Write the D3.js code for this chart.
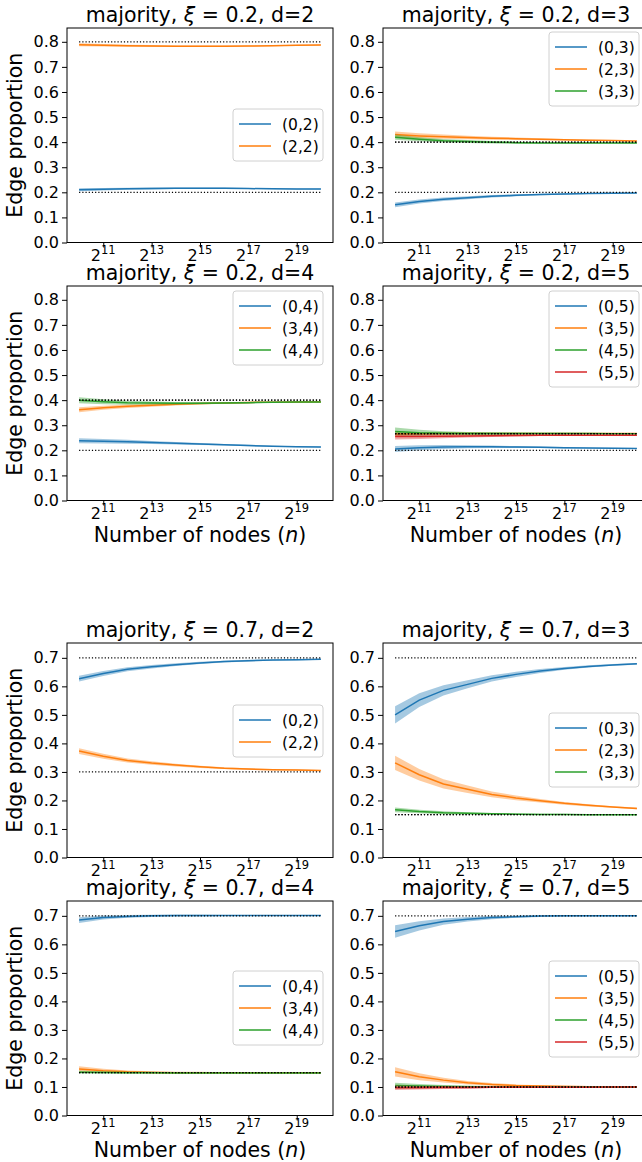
<!DOCTYPE html>
<html>
<head>
<meta charset="utf-8">
<script src="https://cdn.jsdelivr.net/npm/d3@7"></script>
<style>
  body { margin: 0; background: #fff; }
  svg { display: block; font-family: "DejaVu Sans", sans-serif; }
</style>
</head>
<body>
<svg id="chart" width="642" height="1162"></svg>
<script>
// x values: number of nodes, 2^10 .. 2^20
const nodeCounts = [1024, 2048, 4096, 8192, 16384, 32768, 65536, 131072, 262144, 524288, 1048576];
const xTickExps = [11, 13, 15, 17, 19];
const yTicksLow = [0, 0.1, 0.2, 0.3, 0.4, 0.5, 0.6, 0.7, 0.8];
const yTicksHigh = [0, 0.1, 0.2, 0.3, 0.4, 0.5, 0.6, 0.7];
const seriesColors = ['#1f77b4', '#ff7f0e', '#2ca02c', '#d62728'];

// xi = 0.2, d = 2
const a2Labels = ['(0,2)', '(2,2)'];
const a2Mean = [
  [0.210, 0.212, 0.214, 0.215, 0.216, 0.216, 0.216, 0.215, 0.214, 0.213, 0.213],
  [0.788, 0.786, 0.784, 0.783, 0.782, 0.782, 0.782, 0.783, 0.784, 0.786, 0.787]
];
const a2Err = [
  [0.006, 0.005, 0.004, 0.004, 0.003, 0.003, 0.003, 0.002, 0.002, 0.002, 0.002],
  [0.006, 0.005, 0.004, 0.004, 0.003, 0.003, 0.003, 0.002, 0.002, 0.002, 0.002]
];
const a2Ref = [0.2, 0.8];

// xi = 0.2, d = 3
const a3Labels = ['(0,3)', '(2,3)', '(3,3)'];
const a3Mean = [
  [0.150, 0.163, 0.172, 0.178, 0.184, 0.188, 0.191, 0.193, 0.195, 0.196, 0.197],
  [0.430, 0.425, 0.422, 0.419, 0.416, 0.414, 0.412, 0.410, 0.408, 0.407, 0.405],
  [0.420, 0.412, 0.406, 0.403, 0.400, 0.398, 0.397, 0.397, 0.397, 0.397, 0.397]
];
const a3Err = [
  [0.009, 0.008, 0.007, 0.006, 0.005, 0.004, 0.003, 0.003, 0.002, 0.002, 0.002],
  [0.012, 0.010, 0.008, 0.007, 0.006, 0.005, 0.004, 0.003, 0.003, 0.002, 0.002],
  [0.010, 0.008, 0.007, 0.006, 0.005, 0.004, 0.003, 0.003, 0.002, 0.002, 0.002]
];
const a3Ref = [0.2, 0.4, 0.4];

// xi = 0.2, d = 4
const a4Labels = ['(0,4)', '(3,4)', '(4,4)'];
const a4Mean = [
  [0.238, 0.236, 0.234, 0.231, 0.228, 0.225, 0.222, 0.219, 0.216, 0.214, 0.213],
  [0.362, 0.370, 0.376, 0.380, 0.384, 0.387, 0.389, 0.391, 0.392, 0.393, 0.394],
  [0.400, 0.394, 0.390, 0.389, 0.388, 0.388, 0.389, 0.390, 0.392, 0.393, 0.393]
];
const a4Err = [
  [0.010, 0.009, 0.008, 0.006, 0.005, 0.004, 0.003, 0.003, 0.002, 0.002, 0.002],
  [0.010, 0.008, 0.007, 0.006, 0.005, 0.004, 0.003, 0.003, 0.002, 0.002, 0.002],
  [0.012, 0.010, 0.008, 0.006, 0.005, 0.004, 0.003, 0.003, 0.002, 0.002, 0.002]
];
const a4Ref = [0.2, 0.4, 0.4];

// xi = 0.2, d = 5
const a5Labels = ['(0,5)', '(3,5)', '(4,5)', '(5,5)'];
const a5Mean = [
  [0.205, 0.210, 0.213, 0.214, 0.214, 0.213, 0.212, 0.210, 0.209, 0.208, 0.207],
  [0.265, 0.266, 0.267, 0.267, 0.267, 0.267, 0.267, 0.267, 0.267, 0.267, 0.267],
  [0.275, 0.270, 0.268, 0.267, 0.267, 0.267, 0.267, 0.267, 0.267, 0.266, 0.266],
  [0.255, 0.255, 0.256, 0.257, 0.258, 0.259, 0.260, 0.260, 0.260, 0.260, 0.260]
];
const a5Err = [
  [0.012, 0.010, 0.008, 0.006, 0.005, 0.004, 0.003, 0.003, 0.002, 0.002, 0.002],
  [0.008, 0.006, 0.005, 0.004, 0.003, 0.003, 0.002, 0.002, 0.002, 0.002, 0.002],
  [0.016, 0.012, 0.008, 0.006, 0.005, 0.004, 0.003, 0.003, 0.002, 0.002, 0.002],
  [0.012, 0.010, 0.008, 0.006, 0.005, 0.004, 0.003, 0.003, 0.002, 0.002, 0.002]
];
const a5Ref = [0.2, 0.2667, 0.2667, 0.2667];

// xi = 0.7, d = 2
const b2Labels = ['(0,2)', '(2,2)'];
const b2Mean = [
  [0.627, 0.645, 0.660, 0.669, 0.676, 0.682, 0.687, 0.690, 0.692, 0.693, 0.695],
  [0.373, 0.355, 0.340, 0.331, 0.324, 0.318, 0.313, 0.310, 0.308, 0.307, 0.305]
];
const b2Err = [
  [0.010, 0.009, 0.007, 0.006, 0.005, 0.004, 0.003, 0.003, 0.002, 0.002, 0.002],
  [0.010, 0.009, 0.007, 0.006, 0.005, 0.004, 0.003, 0.003, 0.002, 0.002, 0.002]
];
const b2Ref = [0.7, 0.3];

// xi = 0.7, d = 3
const b3Labels = ['(0,3)', '(2,3)', '(3,3)'];
const b3Mean = [
  [0.500, 0.552, 0.586, 0.607, 0.628, 0.642, 0.654, 0.663, 0.670, 0.675, 0.679],
  [0.332, 0.290, 0.258, 0.239, 0.221, 0.209, 0.199, 0.190, 0.183, 0.177, 0.172],
  [0.167, 0.161, 0.157, 0.155, 0.153, 0.152, 0.151, 0.151, 0.150, 0.150, 0.150]
];
const b3Err = [
  [0.030, 0.024, 0.018, 0.014, 0.011, 0.009, 0.007, 0.005, 0.004, 0.003, 0.003],
  [0.025, 0.020, 0.016, 0.013, 0.010, 0.008, 0.006, 0.005, 0.004, 0.003, 0.003],
  [0.008, 0.006, 0.005, 0.004, 0.003, 0.003, 0.002, 0.002, 0.002, 0.002, 0.002]
];
const b3Ref = [0.7, 0.15, 0.15];

// xi = 0.7, d = 4
const b4Labels = ['(0,4)', '(3,4)', '(4,4)'];
const b4Mean = [
  [0.685, 0.694, 0.698, 0.700, 0.701, 0.701, 0.701, 0.701, 0.701, 0.701, 0.701],
  [0.163, 0.157, 0.153, 0.151, 0.150, 0.150, 0.150, 0.150, 0.150, 0.150, 0.150],
  [0.152, 0.151, 0.150, 0.150, 0.149, 0.149, 0.149, 0.149, 0.149, 0.149, 0.149]
];
const b4Err = [
  [0.010, 0.007, 0.005, 0.004, 0.003, 0.003, 0.002, 0.002, 0.002, 0.002, 0.002],
  [0.010, 0.007, 0.005, 0.004, 0.003, 0.003, 0.002, 0.002, 0.002, 0.002, 0.002],
  [0.005, 0.004, 0.003, 0.003, 0.002, 0.002, 0.002, 0.002, 0.002, 0.002, 0.002]
];
const b4Ref = [0.7, 0.15, 0.15];

// xi = 0.7, d = 5
const b5Labels = ['(0,5)', '(3,5)', '(4,5)', '(5,5)'];
const b5Mean = [
  [0.645, 0.665, 0.680, 0.688, 0.694, 0.697, 0.699, 0.700, 0.700, 0.700, 0.700],
  [0.153, 0.136, 0.124, 0.115, 0.109, 0.105, 0.103, 0.102, 0.101, 0.100, 0.100],
  [0.105, 0.103, 0.102, 0.101, 0.100, 0.100, 0.100, 0.100, 0.100, 0.100, 0.100],
  [0.097, 0.097, 0.098, 0.098, 0.099, 0.099, 0.099, 0.099, 0.099, 0.100, 0.100]
];
const b5Err = [
  [0.022, 0.016, 0.011, 0.008, 0.006, 0.004, 0.003, 0.003, 0.002, 0.002, 0.002],
  [0.016, 0.012, 0.008, 0.006, 0.005, 0.004, 0.003, 0.003, 0.002, 0.002, 0.002],
  [0.010, 0.007, 0.005, 0.004, 0.003, 0.003, 0.002, 0.002, 0.002, 0.002, 0.002],
  [0.008, 0.006, 0.005, 0.004, 0.003, 0.003, 0.002, 0.002, 0.002, 0.002, 0.002]
];
const b5Ref = [0.7, 0.1, 0.1, 0.1];

// panel layout: column/row, y range and legend top
const panels = [
  {xi: '0.2', d: 2, labels: a2Labels, mean: a2Mean, err: a2Err, ref: a2Ref, col: 0, row: 0, legendTop: 109},
  {xi: '0.2', d: 3, labels: a3Labels, mean: a3Mean, err: a3Err, ref: a3Ref, col: 1, row: 0, legendTop: 32},
  {xi: '0.2', d: 4, labels: a4Labels, mean: a4Mean, err: a4Err, ref: a4Ref, col: 0, row: 1, legendTop: 291},
  {xi: '0.2', d: 5, labels: a5Labels, mean: a5Mean, err: a5Err, ref: a5Ref, col: 1, row: 1, legendTop: 291},
  {xi: '0.7', d: 2, labels: b2Labels, mean: b2Mean, err: b2Err, ref: b2Ref, col: 0, row: 2, legendTop: 705},
  {xi: '0.7', d: 3, labels: b3Labels, mean: b3Mean, err: b3Err, ref: b3Ref, col: 1, row: 2, legendTop: 713},
  {xi: '0.7', d: 4, labels: b4Labels, mean: b4Mean, err: b4Err, ref: b4Ref, col: 0, row: 3, legendTop: 971},
  {xi: '0.7', d: 5, labels: b5Labels, mean: b5Mean, err: b5Err, ref: b5Ref, col: 1, row: 3, legendTop: 961}
];

const colX = [67, 383];
const rowY = [28, 286, 643, 901];
const W = 266, H = 214.5;

const svg = d3.select('#chart');

const x = d3.scaleLog().base(2)
    .domain([Math.pow(2, 9.5), Math.pow(2, 20.5)])
    .range([0, W]);

panels.forEach(p => {
    const low = p.row < 2;
    const y = d3.scaleLinear()
        .domain([0, low ? 0.855 : 0.752])
        .range([H, 0]);
    const yTicks = low ? yTicksLow : yTicksHigh;

    const g = svg.append('g')
        .attr('transform', `translate(${colX[p.col]},${rowY[p.row]})`);

    // bands
    const area = d3.area()
        .x(d => x(d.n))
        .y0(d => y(d.m - d.e))
        .y1(d => y(d.m + d.e));
    const line = d3.line()
        .x(d => x(d.n))
        .y(d => y(d.m));

    p.mean.forEach((series, i) => {
        const pts = series.map((m, j) => ({n: nodeCounts[j], m: m, e: p.err[i][j]}));
        g.append('path')
            .attr('d', area(pts))
            .style('fill', seriesColors[i])
            .style('opacity', 0.4);
        g.append('path')
            .attr('d', line(pts))
            .style('fill', 'none')
            .style('stroke', seriesColors[i])
            .style('stroke-width', 1.5);
    });

    // expected values, dotted
    p.ref.forEach(r => {
        g.append('line')
            .attr('x1', x(nodeCounts[0]))
            .attr('x2', x(nodeCounts[nodeCounts.length - 1]))
            .attr('y1', y(r))
            .attr('y2', y(r))
            .style('stroke', '#000')
            .style('stroke-width', 1.2)
            .style('stroke-dasharray', '1.2,2');
    });

    // y axis
    const yAxis = d3.axisLeft(y)
        .tickValues(yTicks)
        .tickFormat(d3.format('.1f'))
        .tickSize(5)
        .tickPadding(3);
    const ya = g.append('g').call(yAxis);
    ya.select('.domain').remove();
    ya.selectAll('text').style('font-size', '16px').style('fill', '#000')
        .attr('font-family', 'DejaVu Sans');

    // x axis
    const xAxis = d3.axisBottom(x)
        .tickValues(xTickExps.map(e => Math.pow(2, e)))
        .tickFormat('')
        .tickSize(5);
    const xa = g.append('g').attr('transform', `translate(0,${H})`).call(xAxis);
    xa.select('.domain').remove();

    xTickExps.forEach(e => {
        const t = g.append('text')
            .attr('x', x(Math.pow(2, e)))
            .attr('y', H + 18)
            .attr('text-anchor', 'middle')
            .style('font-size', '16px');
        t.append('tspan').text('2');
        t.append('tspan').attr('dy', -7).style('font-size', '11.5px').text(String(e));
    });

    // frame
    g.append('rect')
        .attr('width', W).attr('height', H)
        .style('fill', 'none')
        .style('stroke', '#000')
        .style('stroke-width', 1);

    // title
    const title = g.append('text')
        .attr('x', W / 2)
        .attr('y', -6)
        .attr('text-anchor', 'middle')
        .style('font-size', '20.5px');
    title.append('tspan').text('majority, ');
    title.append('tspan').style('font-style', 'italic').text('ξ');
    title.append('tspan').text(' = ' + p.xi + ', d=' + p.d);

    if (p.col === 0) {
        g.append('text')
            .attr('transform', `translate(-45,${H / 2}) rotate(-90)`)
            .attr('text-anchor', 'middle')
            .style('font-size', '20.5px')
            .text('Edge proportion');
    }
    if (p.row === 1 || p.row === 3) {
        const xl = g.append('text')
            .attr('x', W / 2)
            .attr('y', H + 41)
            .attr('text-anchor', 'middle')
            .style('font-size', '20.5px');
        xl.append('tspan').text('Number of nodes (');
        xl.append('tspan').style('font-style', 'italic').text('n');
        xl.append('tspan').text(')');
    }

    // legend
    const lw = 90, lh = 30 + (p.labels.length - 1) * 22;
    const lx = W - 10 - lw, ly = p.legendTop - rowY[p.row];
    const lg = g.append('g').attr('transform', `translate(${lx},${ly})`);
    lg.append('rect')
        .attr('width', lw).attr('height', lh)
        .attr('rx', 3)
        .style('fill', '#fff').style('fill-opacity', 0.8)
        .style('stroke', '#d0d0d0');
    p.labels.forEach((lab, i) => {
        const cy = 15 + i * 22;
        lg.append('line')
            .attr('x1', 6).attr('x2', 38)
            .attr('y1', cy).attr('y2', cy)
            .style('stroke', seriesColors[i])
            .style('stroke-width', 1.5);
        lg.append('text')
            .attr('x', 49).attr('y', cy + 5.5)
            .style('font-size', '15.5px')
            .text(lab);
    });
});
</script>
</body>
</html>
